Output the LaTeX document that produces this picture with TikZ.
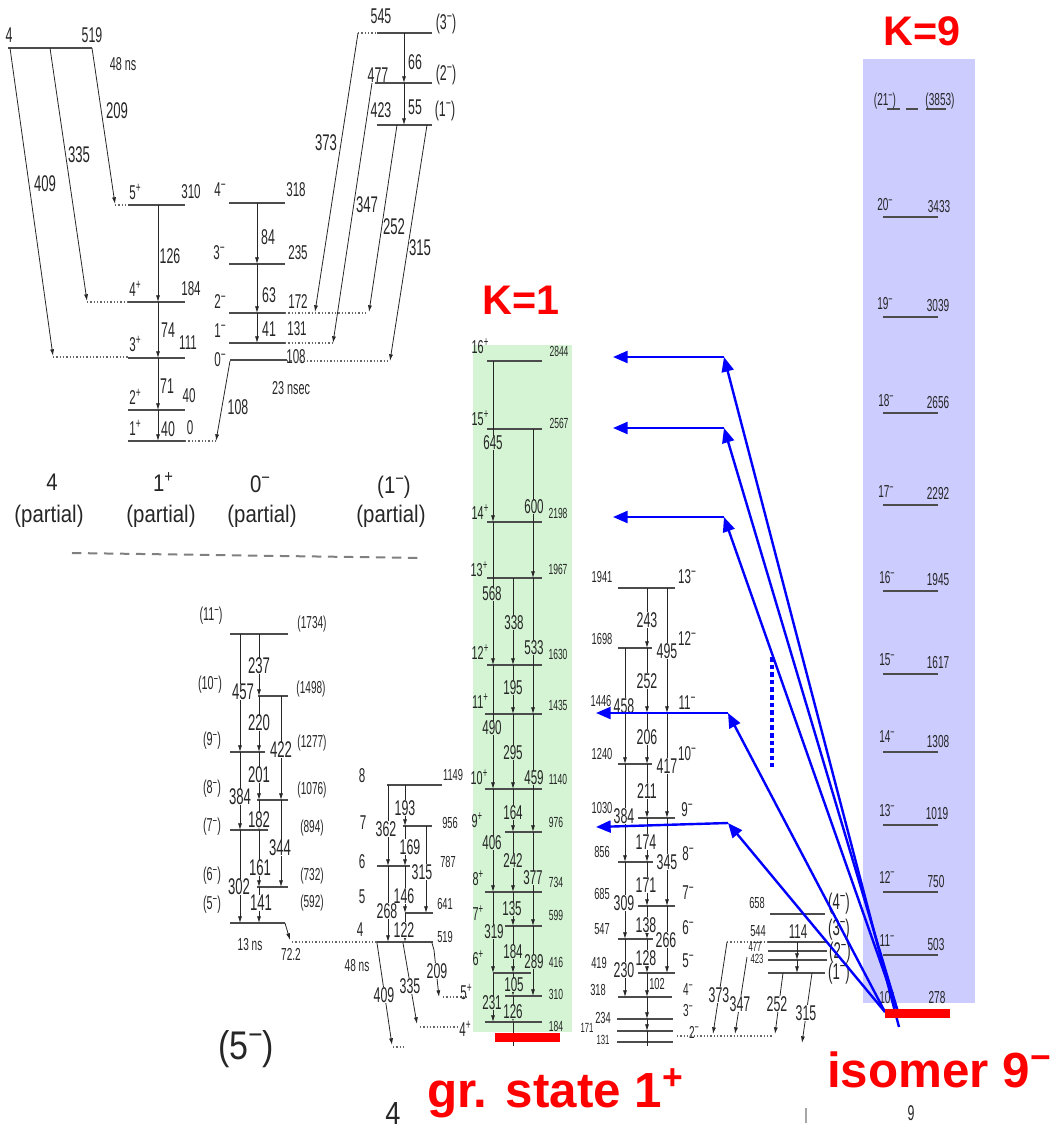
\documentclass[tikz,border=0pt]{standalone}
\usepackage{fontspec}
\usepackage{graphicx}
\usetikzlibrary{arrows.meta}
\newfontfamily\nf[FakeStretch=0.58]{Liberation Sans}
\newfontfamily\wf[FakeStretch=0.85]{Liberation Sans}
\newfontfamily\rf{Liberation Sans}
\definecolor{gband}{RGB}{212,244,212}
\definecolor{pband}{RGB}{204,204,255}
\definecolor{ink}{gray}{0.15}
\newcounter{lbn}
\newcommand\LB[4]{\stepcounter{lbn}\node[#1] (n\arabic{lbn}) at (#2,#3) {#4};}
\newcommand\LV[3]{\draw[lev] (#1,#3) -- (#2,#3);}
\newcommand\TV[3]{\draw[tr] (#1,#2) -- (#1,#3);}
\newcommand\upp[1]{\raisebox{0.36em}{\scalebox{0.72}{#1}}}
\tikzset{
  tx/.style={font=\nf\fontsize{#1}{#1}\selectfont, text=ink, inner sep=0.3pt},
  wtx/.style={font=\wf\fontsize{#1}{#1}\selectfont, text=ink, inner sep=0.3pt},
  rtx/.style={font=\rf\bfseries\fontsize{#1}{#1}\selectfont, text=red, inner sep=0pt},
  fw/.style={fill=white},
  fg/.style={fill=gband},
  lev/.style={line width=1.3pt, draw=black!70},
  tr/.style={line width=0.6pt, draw=black!85, -{Latex[length=5pt,width=3pt]}},
  pl/.style={line width=0.6pt, draw=black!85},
  dot/.style={draw=black!60, line width=0.8pt, dash pattern=on 1pt off 1.5pt},
  gdash/.style={draw=black!50, line width=1.5pt, dash pattern=on 7pt off 5pt},
  barr/.style={draw=blue, line width=1.8pt, -{Triangle[length=11pt,width=9pt]}},
  bdot/.style={draw=blue, line width=2.6pt, dash pattern=on 3.5pt off 2.2pt},
}
\begin{document}
\begin{tikzpicture}[x=0.75pt,y=-0.75pt]
\useasboundingbox (0,0) rectangle (1056,1131);
% ---------- bands background
\fill[gband] (473,345) rectangle (572,1032);
\fill[pband] (863,59) rectangle (975,1003);

% ---------- top left: K=4 partial
\LV{8}{92}{48}
\LB{tx=16}{9}{35}{4}
\LB{tx=16}{92}{35}{519}
\LB{tx=14}{123}{64}{48 ns}
\draw[tr] (10,48) -- (53,356);
\draw[tr] (50,48) -- (87,301);
\draw[tr] (92,48) -- (115,204);
\LB{tx=17,fw}{45}{184}{409}
\LB{tx=17,fw}{79}{155}{335}
\LB{tx=17,fw}{117}{111}{209}
\draw[dot] (87,302) -- (128,302);
\draw[dot] (53,357) -- (128,357);
\draw[dot] (115,205) -- (128,205);

% ---------- 1+ partial
\LV{128}{185}{205}\LV{128}{185}{302}\LV{128}{185}{358}\LV{128}{185}{410}\LV{128}{185}{441}
\LB{tx=15}{135}{192}{5\upp{+}}\LB{tx=15}{191}{192}{310}
\LB{tx=15}{135}{289}{4\upp{+}}\LB{tx=15}{191}{289}{184}
\LB{tx=15}{135}{344}{3\upp{+}}\LB{tx=15}{188}{343}{111}
\LB{tx=15}{135}{397}{2\upp{+}}\LB{tx=15}{189}{396}{40}
\LB{tx=15}{135}{428}{1\upp{+}}\LB{tx=15}{190}{428}{0}
\TV{158}{205}{302}\TV{158}{302}{358}\TV{158}{358}{410}\TV{158}{410}{441}
\LB{tx=16}{170}{256}{126}\LB{tx=16}{168}{330}{74}\LB{tx=16}{167}{386}{71}\LB{tx=16}{168}{429}{40}
\draw[dot] (185,441) -- (216,441);
\draw[tr] (230,361) -- (216,441);
\LB{tx=16}{238}{407}{108}

% ---------- 0- partial
\LV{229}{285}{203}\LV{229}{285}{264}\LV{229}{285}{313}\LV{229}{285}{343}\LV{230}{287}{360}
\LB{tx=15}{220}{190}{4\upp{−}}\LB{tx=15}{296}{190}{318}
\LB{tx=15}{219}{253}{3\upp{−}}\LB{tx=15}{298}{253}{235}
\LB{tx=15}{220}{302}{2\upp{−}}\LB{tx=15}{298}{302}{172}
\LB{tx=15}{220}{331}{1\upp{−}}\LB{tx=15}{297}{329}{131}
\LB{tx=15}{220}{360}{0\upp{−}}\LB{tx=15}{296}{357}{108}
\TV{257}{203}{264}\TV{257}{264}{313}\TV{257}{313}{343}
\LB{tx=16}{268}{237}{84}\LB{tx=16}{269}{295}{63}\LB{tx=16}{269}{329}{41}
\LB{tx=14}{291}{388}{23 nsec}
\draw[dot] (285,313) -- (368,313);
\draw[dot] (285,343) -- (333,343);
\draw[dot] (287,361) -- (390,361);

% ---------- (1-) partial
\LV{377}{432}{33}\LV{375}{432}{83}\LV{377}{432}{125}
\LB{tx=16}{381}{16}{545}\LB{tx=16}{446}{24}{(3\upp{−})}
\LB{tx=16}{378}{75}{477}\LB{tx=16}{446}{75}{(2\upp{−})}
\LB{tx=16}{381}{110}{423}\LB{tx=16}{445}{111}{(1\upp{−})}
\TV{404}{33}{83}\TV{404}{83}{125}
\LB{tx=16}{415}{62}{66}\LB{tx=16}{415}{107}{55}
\draw[dot] (358,33) -- (377,33);
\draw[tr] (358,33) -- (315,312);
\draw[tr] (372,83) -- (333,343);
\draw[tr] (397,125) -- (369,312);
\draw[tr] (427,125) -- (390,361);
\LB{tx=17,fw}{326}{143}{373}
\LB{tx=17,fw}{367}{205}{347}
\LB{tx=17,fw}{394}{227}{252}
\LB{tx=17,fw}{420}{248}{315}

% ---------- band titles
\LB{wtx=18}{52}{482}{4}
\LB{wtx=18}{163}{482}{1\upp{+}}
\LB{wtx=18}{260}{484}{0\upp{−}}
\LB{wtx=18}{394}{487}{(1\upp{−})}
\LB{wtx=18}{49}{516}{(partial)}
\LB{wtx=18}{161}{516}{(partial)}
\LB{wtx=18}{262}{516}{(partial)}
\LB{wtx=18}{391}{516}{(partial)}
\draw[gdash] (72,553) -- (422,558);

% ---------- (5-) band
\LV{230}{288}{634}\LV{258}{288}{696}\LV{230}{265}{752}\LV{257}{288}{800}
\LV{230}{268}{830}\LV{257}{288}{887}\LV{230}{285}{923}
\LB{tx=14}{211}{616}{(11\upp{−})}\LB{tx=13}{312}{624}{(1734)}
\LB{tx=14}{210}{685}{(10\upp{−})}\LB{tx=13}{311}{689}{(1498)}
\LB{tx=14}{212}{741}{(9\upp{−})}\LB{tx=13}{312}{743}{(1277)}
\LB{tx=14}{212}{789}{(8\upp{−})}\LB{tx=13}{312}{790}{(1076)}
\LB{tx=14}{212}{827}{(7\upp{−})}\LB{tx=13}{312}{828}{(894)}
\LB{tx=14}{212}{876}{(6\upp{−})}\LB{tx=13}{312}{876}{(732)}
\LB{tx=14}{212}{905}{(5\upp{−})}\LB{tx=13}{312}{903}{(592)}
\TV{240}{634}{752}\TV{240}{752}{830}\TV{240}{830}{923}
\TV{259}{634}{696}\TV{259}{696}{752}\TV{259}{752}{800}\TV{259}{800}{830}\TV{259}{830}{887}\TV{259}{887}{923}
\TV{281}{696}{800}\TV{281}{800}{887}
\LB{tx=17,fw}{259}{666}{237}\LB{tx=17,fw}{243}{692}{457}\LB{tx=17,fw}{259}{723}{220}
\LB{tx=17,fw}{281}{750}{422}\LB{tx=17,fw}{259}{775}{201}\LB{tx=17,fw}{240}{797}{384}
\LB{tx=17,fw}{259}{820}{182}\LB{tx=17,fw}{280}{848}{344}\LB{tx=17,fw}{260}{868}{161}
\LB{tx=17,fw}{239}{887}{302}\LB{tx=17,fw}{261}{903}{141}
\draw[tr] (285,923) -- (290,940);
\LB{tx=13}{250}{945}{13 ns}
\LB{tx=13}{291}{954}{72.2}
\draw[dot] (292,942) -- (377,942);
\LB{wtx=30}{246}{1049}{(5\upp{−})}

% ---------- K=4 band (8..4)
\LV{387}{442}{785}\LV{403}{432}{826}\LV{377}{410}{866}\LV{405}{433}{913}\LV{377}{433}{942}
\LB{tx=15}{362}{776}{8}\LB{tx=12}{453}{775}{1149}
\LB{tx=15}{363}{823}{7}\LB{tx=12}{450}{823}{956}
\LB{tx=15}{362}{862}{6}\LB{tx=12}{448}{862}{787}
\LB{tx=15}{362}{897}{5}\LB{tx=12}{445}{904}{641}
\LB{tx=15}{360}{930}{4}\LB{tx=12}{445}{937}{519}
\TV{388}{785}{866}\TV{388}{866}{942}
\TV{405}{785}{826}\TV{405}{826}{866}\TV{405}{866}{913}\TV{405}{913}{942}
\TV{426}{826}{913}
\LB{tx=16,fw}{405}{808}{193}\LB{tx=16,fw}{386}{829}{362}\LB{tx=16,fw}{410}{847}{169}
\LB{tx=16,fw}{422}{872}{315}\LB{tx=16,fw}{404}{896}{146}\LB{tx=16,fw}{387}{911}{268}
\LB{tx=16,fw}{404}{930}{122}
\draw[tr] (377,943) -- (392,1045);
\draw[tr] (403,943) -- (417,1024);
\draw[tr] (432,943) -- (434,950) -- (439,997);
\LB{tx=13}{357}{966}{48 ns}
\LB{tx=16,fw}{384}{995}{409}
\LB{tx=16,fw}{410}{986}{335}
\LB{tx=16,fw}{437}{971}{209}
\draw[dot] (443,997) -- (467,997);
\draw[dot] (420,1027) -- (458,1027);
\draw[dot] (393,1047) -- (405,1047);
\LB{tx=15}{466}{992}{5\upp{+}}
\LB{tx=15}{465}{1029}{4\upp{+}}
\LB{wtx=24}{393}{1113}{4}

% ---------- K=1 band (green)
\LV{487}{542}{361}\LV{487}{542}{429}\LV{487}{542}{522}\LV{487}{542}{578}\LV{487}{542}{665}
\LV{485}{542}{714}\LV{485}{542}{789}\LV{505}{542}{832}\LV{485}{542}{892}\LV{505}{542}{926}
\LV{493}{531}{973}\LV{505}{542}{996}\LV{485}{542}{1022}
\TV{493}{361}{522}\TV{493}{522}{665}\TV{493}{665}{789}\TV{493}{789}{892}\TV{493}{892}{973}\TV{493}{973}{1022}
\TV{513}{578}{665}\TV{513}{665}{714}\TV{513}{714}{789}\TV{513}{789}{832}\TV{513}{832}{892}
\TV{513}{892}{926}\TV{513}{926}{973}\TV{513}{973}{996}\TV{513}{996}{1022}
\draw[pl] (513,1022) -- (513,1046);
\TV{533}{429}{578}\TV{533}{578}{714}\TV{533}{714}{832}\TV{533}{832}{926}\TV{533}{926}{996}
\LB{tx=14}{480}{346}{16\upp{+}}\LB{tx=14}{480}{418}{15\upp{+}}\LB{tx=14}{480}{512}{14\upp{+}}
\LB{tx=14}{479}{569}{13\upp{+}}\LB{tx=14}{480}{652}{12\upp{+}}\LB{tx=14}{480}{701}{11\upp{+}}
\LB{tx=14}{479}{777}{10\upp{+}}\LB{tx=14}{477}{820}{9\upp{+}}\LB{tx=14}{478}{878}{8\upp{+}}
\LB{tx=14}{478}{913}{7\upp{+}}\LB{tx=14}{478}{958}{6\upp{+}}
\LB{tx=11}{559}{351}{2844}\LB{tx=11}{559}{423}{2567}\LB{tx=11}{558}{513}{2198}
\LB{tx=11}{558}{569}{1967}\LB{tx=11}{558}{654}{1630}\LB{tx=11}{558}{705}{1435}
\LB{tx=11}{558}{779}{1140}\LB{tx=11}{556}{822}{976}\LB{tx=11}{556}{882}{734}
\LB{tx=11}{556}{915}{599}\LB{tx=11}{556}{962}{416}\LB{tx=11}{556}{994}{310}
\LB{tx=11}{556}{1026}{184}
\LB{tx=15,fg}{493}{443}{645}\LB{tx=15,fg}{534}{507}{600}\LB{tx=15,fg}{492}{594}{568}
\LB{tx=15,fg}{514}{623}{338}\LB{tx=15,fg}{534}{648}{533}\LB{tx=15,fg}{513}{688}{195}
\LB{tx=15,fg}{492}{728}{490}\LB{tx=15,fg}{513}{753}{295}\LB{tx=15,fg}{534}{778}{459}
\LB{tx=15,fg}{513}{813}{164}\LB{tx=15,fg}{492}{843}{406}\LB{tx=15,fg}{513}{861}{242}
\LB{tx=15,fg}{533}{878}{377}\LB{tx=15,fg}{512}{909}{135}\LB{tx=15,fg}{494}{932}{319}
\LB{tx=15,fg}{513}{952}{184}\LB{tx=15,fg}{534}{962}{289}\LB{tx=15,fg}{514}{985}{105}
\LB{tx=15,fg}{492}{1003}{231}\LB{tx=15,fg}{513}{1012}{126}

% ---------- K=9 low part (black, middle right)
\LV{618}{675}{588}\LV{618}{652}{648}\LV{618}{675}{713}\LV{618}{652}{764}\LV{638}{675}{818}
\LV{618}{653}{862}\LV{638}{675}{906}\LV{618}{653}{939}\LV{638}{675}{973}\LV{618}{672}{997}
\LV{617}{673}{1019}\LV{617}{673}{1031}\LV{617}{673}{1042}
\TV{625}{648}{764}\TV{625}{764}{862}\TV{625}{862}{939}\TV{625}{939}{997}
\TV{647}{588}{648}\TV{647}{648}{713}\TV{647}{713}{764}\TV{647}{764}{818}\TV{647}{818}{862}
\TV{647}{862}{906}\TV{647}{906}{939}\TV{647}{939}{973}\TV{647}{973}{997}\TV{647}{997}{1019}
\TV{647}{1019}{1031}
\draw[pl] (647,1031) -- (647,1046);
\TV{667}{588}{713}\TV{667}{713}{818}\TV{667}{818}{906}\TV{667}{906}{973}
\LB{tx=12}{602}{577}{1941}\LB{tx=12}{602}{639}{1698}\LB{tx=12}{601}{701}{1446}
\LB{tx=12}{602}{754}{1240}\LB{tx=12}{602}{808}{1030}\LB{tx=12}{602}{852}{856}
\LB{tx=12}{602}{894}{685}\LB{tx=12}{602}{929}{547}\LB{tx=12}{599}{963}{419}
\LB{tx=12}{598}{990}{318}\LB{tx=12}{603}{1018}{234}\LB{tx=10}{587}{1028}{171}
\LB{tx=10}{603}{1040}{131}
\LB{tx=15}{687}{577}{13\upp{−}}\LB{tx=15}{687}{639}{12\upp{−}}\LB{tx=15}{687}{703}{11\upp{−}}
\LB{tx=15}{687}{754}{10\upp{−}}\LB{tx=15}{687}{810}{9\upp{−}}\LB{tx=15}{688}{854}{8\upp{−}}
\LB{tx=15}{688}{893}{7\upp{−}}\LB{tx=15}{688}{928}{6\upp{−}}\LB{tx=15}{688}{961}{5\upp{−}}
\LB{tx=13}{688}{990}{4\upp{−}}\LB{tx=13}{688}{1011}{3\upp{−}}\LB{tx=13}{694}{1032}{2\upp{−}}
\LB{tx=16,fw}{647}{620}{243}\LB{tx=16,fw}{667}{651}{495}\LB{tx=16,fw}{647}{681}{252}
\LB{tx=16,fw}{624}{706}{458}\LB{tx=16,fw}{647}{737}{206}\LB{tx=16,fw}{667}{766}{417}
\LB{tx=16,fw}{647}{791}{211}\LB{tx=16,fw}{624}{816}{384}\LB{tx=16,fw}{646}{842}{174}
\LB{tx=16,fw}{667}{862}{345}\LB{tx=16,fw}{646}{885}{171}\LB{tx=16,fw}{624}{903}{309}
\LB{tx=16,fw}{646}{925}{138}\LB{tx=16,fw}{666}{940}{266}\LB{tx=16,fw}{646}{958}{128}
\LB{tx=16,fw}{624}{970}{230}\LB{tx=12}{657}{984}{102}

% ---------- small (1-) band bottom right
\LV{770}{825}{914}\LV{768}{827}{942}\LV{768}{827}{951}\LV{768}{827}{960}\LV{768}{825}{973}
\draw[dot] (727,942) -- (768,942);
\TV{797}{942}{960}\TV{797}{960}{973}
\LB{tx=12}{757}{903}{658}\LB{tx=17}{839}{904}{(4\upp{−})}
\LB{tx=12}{758}{931}{544}\LB{tx=15}{798}{932}{114}\LB{tx=17}{839}{930}{(3\upp{−})}
\LB{tx=10}{755}{947}{477}\LB{tx=17}{840}{953}{(2\upp{−})}
\LB{tx=10}{757}{959}{423}\LB{tx=17}{839}{974}{(1\upp{−})}
\draw[tr] (727,942) -- (713,1034);
\draw[tr] (747,957) -- (735,1034);
\draw[tr] (783,973) -- (775,1034);
\draw[tr] (812,973) -- (802,1043);
\LB{tx=16,fw}{719}{995}{373}\LB{tx=16,fw}{740}{1004}{347}
\LB{tx=16,fw}{777}{1004}{252}\LB{tx=16,fw}{806}{1013}{315}
\draw[dot] (677,1036) -- (773,1036);

% ---------- K=9 band (purple)
\LV{883}{938}{217}\LV{883}{938}{317}\LV{883}{938}{413}\LV{883}{938}{505}\LV{883}{938}{591}
\LV{883}{938}{674}\LV{883}{938}{752}\LV{883}{938}{825}\LV{883}{938}{892}\LV{883}{938}{955}
\draw[line width=0.9pt, draw=black!70] (887,109) -- (900,109) (906,109) -- (918,109) (926,109) -- (946,109);
\LB{tx=13}{885}{101}{(21\upp{−})}\LB{tx=13}{940}{101}{(3853)}
\LB{tx=13}{885}{205}{20\upp{−}}\LB{tx=13}{939}{207}{3433}
\LB{tx=13}{885}{304}{19\upp{−}}\LB{tx=13}{938}{306}{3039}
\LB{tx=13}{886}{401}{18\upp{−}}\LB{tx=13}{938}{403}{2656}
\LB{tx=13}{886}{492}{17\upp{−}}\LB{tx=13}{938}{494}{2292}
\LB{tx=13}{887}{578}{16\upp{−}}\LB{tx=13}{938}{580}{1945}
\LB{tx=13}{887}{660}{15\upp{−}}\LB{tx=13}{938}{663}{1617}
\LB{tx=13}{887}{737}{14\upp{−}}\LB{tx=13}{938}{742}{1308}
\LB{tx=13}{887}{811}{13\upp{−}}\LB{tx=13}{937}{814}{1019}
\LB{tx=13}{887}{877}{12\upp{−}}\LB{tx=13}{936}{882}{750}
\LB{tx=13}{887}{941}{11\upp{−}}\LB{tx=13}{936}{945}{503}
\LB{tx=13}{887}{998}{10\upp{−}}\LB{tx=13}{937}{998}{278}

% ---------- misc bottom
\draw[draw=black!35, line width=0.8pt] (806,1108) -- (806,1123);
\LB{tx=16}{911}{1113}{9}

% ---------- blue arrows
\coordinate (s1) at (899,1027);
\coordinate (s2) at (898,1012);
\coordinate (s3) at (885,1012);
\coordinate (k1) at (724,357);
\coordinate (k2) at (724,428);
\coordinate (k3) at (724,517);
\coordinate (k4) at (728,713);
\coordinate (k5) at (728,823);
\coordinate (h1) at (613,357);
\coordinate (h2) at (613,428);
\coordinate (h3) at (613,517);
\coordinate (h4) at (596,713);
\coordinate (h5) at (596,827);
\draw[barr] (s1) -- (k1);
\draw[barr] (s2) -- (k2);
\draw[barr] (s2) -- (k3);
\draw[barr] (s3) -- (k4);
\draw[barr] (s3) -- (k5);
\draw[barr] (k1) -- (h1);
\draw[barr] (k2) -- (h2);
\draw[barr] (k3) -- (h3);
\draw[barr] (k4) -- (h4);
\draw[barr] (k5) -- (h5);
\draw[bdot] (772,657) -- (772,767);

% ---------- red marks and labels
\fill[red] (495,1033) rectangle (560,1042);
\fill[red] (885,1009) rectangle (950,1018);
\node[rtx=31] (K1) at (521,300) {K=1};
\node[rtx=31] (K9) at (922,31) {K=9};
\node[rtx=37, anchor=base west] (gs) at (427,1107) {gr. state 1\upp{+}};
\node[rtx=37, anchor=base west] (iso) at (827,1087) {isomer 9\upp{−}};
\end{tikzpicture}
\end{document}
